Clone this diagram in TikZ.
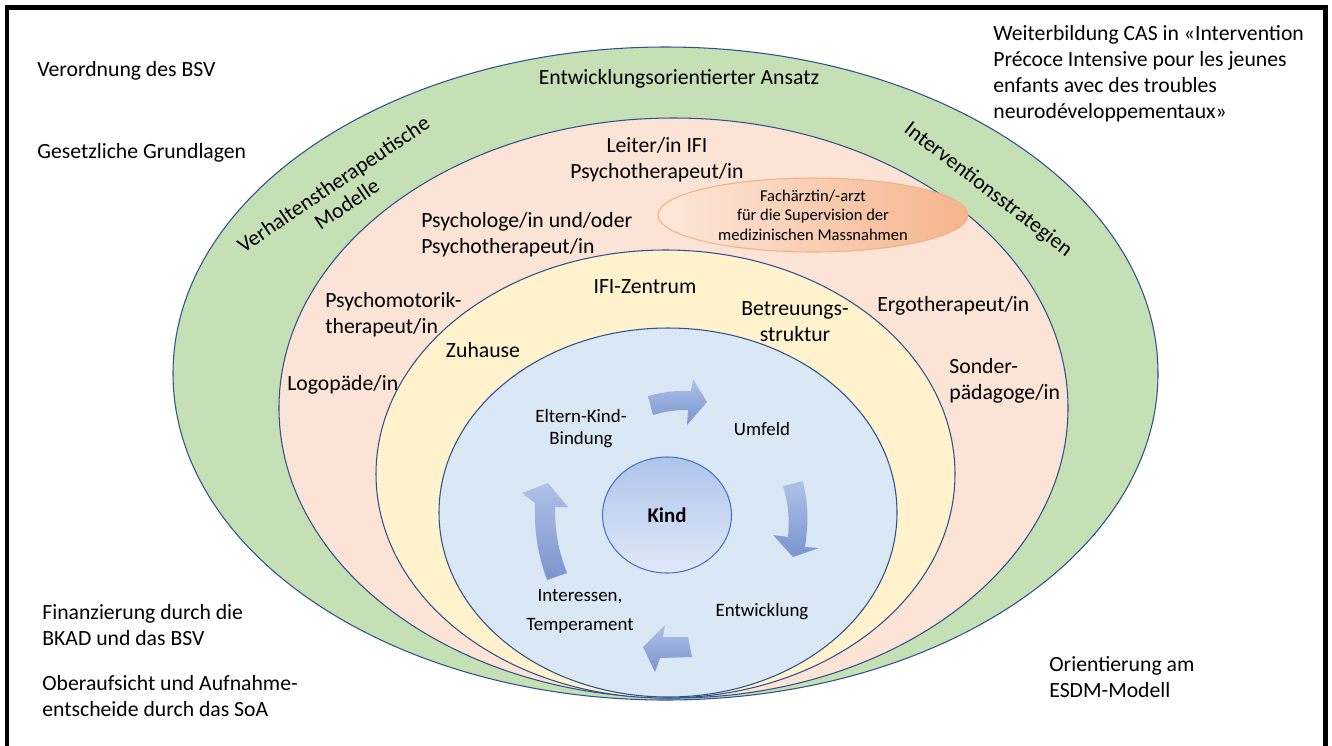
\documentclass[tikz,border=0pt]{standalone}
\usepackage{fontspec}
\setmainfont{Carlito}
\usetikzlibrary{shapes.geometric}
\definecolor{ringgreen}{HTML}{C5E0B4}
\definecolor{ringpink}{HTML}{FBE3D6}
\definecolor{ringyellow}{HTML}{FFF2CC}
\definecolor{ringblue}{HTML}{DAE7F5}
\definecolor{ringline}{HTML}{2F528F}
\definecolor{arrowtop}{HTML}{B0C1E9}
\definecolor{arrowbot}{HTML}{7A94CE}
\definecolor{kindtop}{HTML}{AFC4EC}
\definecolor{kindbot}{HTML}{E0E8F7}
\definecolor{kindline}{HTML}{4472C4}
\definecolor{fachleft}{HTML}{FCE8DB}
\definecolor{fachright}{HTML}{F5B48C}
\definecolor{fachline}{HTML}{F4B183}
\tikzset{
	lbl/.style={inner sep=0pt, font=\fontsize{12.35}{14.8}\selectfont},
	small/.style={inner sep=0pt, align=center, font=\fontsize{10.75}{12.5}\selectfont},
	ring/.style={draw=ringline, line width=0.6pt},
	bluearrow/.style={top color=arrowtop, bottom color=arrowbot, draw=none},
}

\begin{document}
\begin{tikzpicture}[x=0.02cm, y=-0.02cm]
			%%%%% START %%%%%
			\useasboundingbox (0,0) rectangle (1332,745);
			\fill[white] (0,0) rectangle (1332,745);
			
			% frame
			\draw[line width=1mm] (7,760) -- (7,7) -- (1325,7) -- (1325,760);
			
			% rings
			\filldraw[ring, fill=ringgreen] (665.5,373.5) ellipse [x radius=492.5, y radius=326.5];
			\filldraw[ring, fill=ringpink] (673.5,408) ellipse [x radius=394.5, y radius=290];
			\filldraw[ring, fill=ringyellow] (665.5,474) ellipse [x radius=289.5, y radius=224];
			\filldraw[ring, fill=ringblue] (668,512.5) ellipse [x radius=229, y radius=184.5];
			
			% outside texts
			\node[lbl, anchor=west] (verord) at (37,71) {Verordnung des BSV};
			\node[lbl, anchor=west] (gesetz) at (37,153) {Gesetzliche Grundlagen};
			\node[lbl, anchor=west, align=left] (weiter) at (993,74) {Weiterbildung CAS in «Intervention\\Précoce Intensive pour les jeunes\\enfants avec des troubles\\neurodéveloppementaux»};
			\node[lbl, anchor=west, align=left] (finanz) at (42,625) {Finanzierung durch die\\BKAD und das BSV};
			\node[lbl, anchor=west, align=left] (ober) at (42,696) {Oberaufsicht und Aufnahme-\\entscheide durch das SoA};
			\node[lbl, anchor=west, align=left] (esdm) at (1049,677) {Orientierung am\\ESDM-Modell};
			
			% green ring
			\node[lbl] (ansatz) at (679,79) {Entwicklungsorientierter Ansatz};
			\node[lbl, align=center, rotate=34, font=\fontsize{12.35}{13.8}\selectfont] (verhalten) at (340,194) {Verhaltenstherapeutische\\Modelle};
			\node[lbl, rotate=-37.5] (interv) at (988,190) {Interventionsstrategien};
			
			% pink ring
			\node[lbl, align=center] (leiter) at (657,160) {Leiter/in IFI\\Psychotherapeut/in};
			\node[ellipse, draw=fachline, line width=0.6pt, left color=fachleft, right color=fachright, minimum width=310*0.02cm, minimum height=74*0.02cm, inner sep=0pt, align=center, font=\fontsize{9.4}{11.1}\selectfont] (fach) at (813,215) {Fachärztin/-arzt\\für die Supervision der\\medizinischen Massnahmen};
			\node[lbl, anchor=west, align=left] (psychologe) at (421,235) {Psychologe/in und/oder\\Psychotherapeut/in};
			\node[lbl, anchor=west, align=left] (psychomot) at (325,315) {Psychomotorik-\\therapeut/in};
			\node[lbl, anchor=west] (ergo) at (877,306) {Ergotherapeut/in};
			\node[lbl, anchor=west, align=left] (sonder) at (949,381) {Sonder-\\pädagoge/in};
			\node[lbl, anchor=west] (logo) at (287,385) {Logopäde/in};
			
			% yellow ring
			\node[lbl] (zentrum) at (645,287) {IFI-Zentrum};
			\node[lbl] (zuhause) at (483,350) {Zuhause};
			\node[lbl, align=center] (betreuung) at (795,322) {Betreuungs-\\struktur};
			
			% blue ring
			\node[small] (eltern) at (581,429) {Eltern-Kind-\\Bindung};
			\node[small] (umfeld) at (762,429) {Umfeld};
			\node[small] (entw) at (762,612) {Entwicklung};
			\node[small, font=\fontsize{10.75}{16.5}\selectfont] (interessen) at (580,611) {Interessen,\\Temperament};
			\node[ellipse, draw=kindline, line width=0.6pt, top color=kindtop, bottom color=kindbot, minimum width=129*0.02cm, minimum height=116*0.02cm, inner sep=0pt, font=\bfseries\fontsize{11.9}{14}\selectfont] (kind) at (667,515) {Kind};
			
			% arrows round the child
			\path[bluearrow] (648,396) to[bend left=8] (691,391) -- (693,379) -- (707,402) -- (687,425) -- (688,410) to[bend right=8] (653,415) -- cycle;
			\path[bluearrow] (783,486) -- (803,481) to[bend left=10] (805,547) -- (819,548) -- (793,557) -- (773,535) -- (788,537) to[bend right=10] cycle;
			\path[bluearrow] (547,580) -- (567,573) to[bend left=10] (555,507) -- (568,507) -- (548,483) -- (522,493) -- (535,503) to[bend right=10] cycle;
			\path[bluearrow] (688,637) -- (663,637) -- (665,625) -- (643,647) -- (655,672) -- (660,658) -- (692,657) -- cycle;
			
			%%%%% END %%%%%
\end{tikzpicture}
\end{document}
